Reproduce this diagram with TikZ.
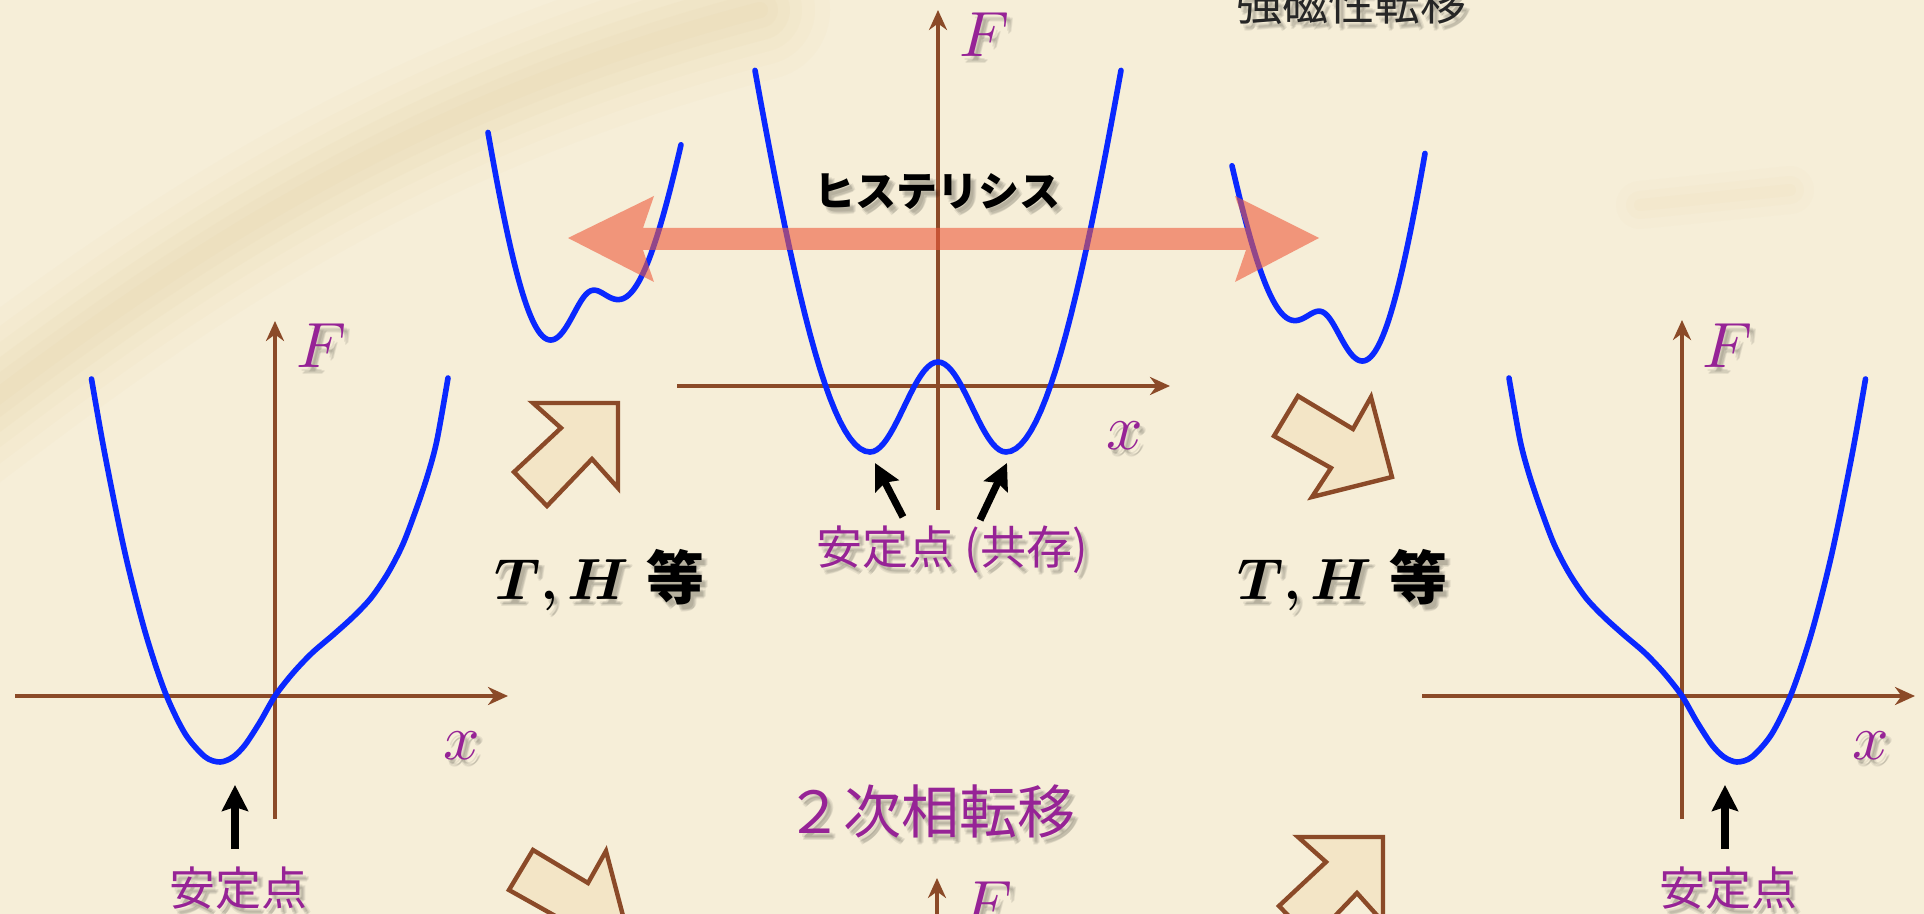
\documentclass[tikz,border=0pt]{standalone}
\usepackage{unicode-math}
\newfontfamily\cjk{Noto Sans CJK JP}
\usetikzlibrary{arrows.meta,calc}
\definecolor{bg}{RGB}{246,238,216}
\definecolor{axbrown}{RGB}{139,74,40}
\definecolor{curveblue}{RGB}{10,40,255}
\definecolor{lblpurple}{RGB}{150,35,150}
\definecolor{pinkarrow}{RGB}{238,90,60}
\definecolor{blockfill}{RGB}{243,229,198}
\definecolor{stain}{RGB}{220,188,122}
\newcommand\shtext[4]{%
  \foreach \sx/\sy in {3/4,5/6,4/7,6/5}{\node[#3,text=black,opacity=0.07] (#1-sh\sx) at ($(#2)+(\sx,\sy)$) {#4};}%
  \node[#3] (#1) at (#2) {#4};}
\begin{document}
\begin{tikzpicture}[x=0.5pt,y=-0.5pt,
  declare function={wa(\t)=((\t-550)/100)*((\t-550)/100); wb(\t)=((\t-620)/100)*((\t-620)/100);},
  axis/.style={draw=axbrown, line width=1.9pt, -{Stealth[length=10pt,width=9pt]}},
  curve/.style={draw=curveblue, line width=2.8pt, line cap=round, line join=round},
  stab/.style={draw=black, line width=3.6pt, -{Stealth[length=13pt,width=13pt,inset=2pt]}},
  block/.style={draw=axbrown, fill=blockfill, line width=2.2pt, line join=miter},
  flbl/.style={text=lblpurple, inner sep=0pt, font=\fontsize{32}{32}\selectfont},
  jlbl/.style={text=lblpurple, inner sep=0pt, font=\cjk\fontsize{23}{23}\selectfont},
  thlbl/.style={text=black, inner sep=0pt, font=\fontsize{29}{29}\selectfont},
  hys/.style={text=black, inner sep=0pt, font=\cjk\bfseries\fontsize{20.5}{20.5}\selectfont},
  ferro/.style={text=black!85, inner sep=0pt, font=\cjk\fontsize{23}{23}\selectfont},
  phasetwo/.style={text=lblpurple, inner sep=0pt, font=\cjk\fontsize{29}{29}\selectfont}
]
\clip (0,0) rectangle (1924,914);
\fill[bg] (0,0) rectangle (1924,914);
% faint paper stains
\foreach \w/\o in {70/0.035,55/0.04,42/0.045,30/0.05,18/0.05,8/0.05}{
  \draw[stain, line width=\w pt, opacity=\o, line cap=round] (-60,440) .. controls (150,280) and (380,110) .. (760,10);
}
\foreach \w/\o in {24/0.03,14/0.035,6/0.04}{
  \draw[stain, line width=\w pt, opacity=\o, line cap=round] (1640,205) -- (1790,190);
}
% block arrows
\draw[block] (533,403) -- (618,403) -- (618,488) -- (592,459) -- (547,506) -- (514,472) -- (561,428) -- cycle;
\draw[block, shift={(765,434)}] (533,403) -- (618,403) -- (618,488) -- (592,459) -- (547,506) -- (514,472) -- (561,428) -- cycle;
\draw[block] (1298,396) -- (1353,429) -- (1371,397) -- (1392,477) -- (1312,497) -- (1331,468) -- (1274,436) -- cycle;
\draw[block, shift={(-765,454)}] (1298,396) -- (1353,429) -- (1371,397) -- (1392,477) -- (1312,497) -- (1331,468) -- (1274,436) -- cycle;
% axes
\coordinate (aX0) at (15,696); \coordinate (aX1) at (508,696);
\coordinate (aY0) at (275,819); \coordinate (aY1) at (275,321);
\coordinate (bX0) at (677,386); \coordinate (bX1) at (1170,386);
\coordinate (bY0) at (938,510); \coordinate (bY1) at (938,10);
\coordinate (cX0) at (1422,696); \coordinate (cX1) at (1915,696);
\coordinate (cY0) at (1682,819); \coordinate (cY1) at (1682,320);
\coordinate (dY0) at (937,930); \coordinate (dY1) at (937,878);
\draw[axis] (aX0) -- (aX1); \draw[axis] (aY0) -- (aY1);
\draw[axis] (bX0) -- (bX1); \draw[axis] (bY0) -- (bY1);
\draw[axis] (cX0) -- (cX1); \draw[axis] (cY0) -- (cY1);
\draw[axis] (dY0) -- (dY1);
% curve A (left) and C (right, mirrored)
\foreach \sh/\xs in {275/1,1682/-1}{
\begin{scope}[shift={(\sh,696)}, xscale=\xs]
\draw[curve] plot[smooth] coordinates {(-183.5,-317) (-170,-241) (-150,-143) (-130,-64.5) (-110,-4) (-90,37.6) (-70,60.8) (-55,66) (-42,61) (-30,49) (-15,26) (0,0) (18,-23) (37,-43) (58,-61) (78,-79) (96,-98) (113,-123) (128,-152) (142,-189) (153,-222) (162,-256) (173,-318)};
\end{scope}}
% curve B (symmetric double well)
\draw[curve] plot[domain=115:0, samples=24] ({870-\x}, {452-0.0345*\x*\x/(1+(\x/260)*(\x/260))})
  -- plot[domain=-68:68, samples=41] ({938+\x}, {407-45*cos(180*\x/68)})
  -- plot[domain=0:115, samples=24] ({1006+\x}, {452-0.0345*\x*\x/(1+(\x/260)*(\x/260))});
% curve D (top left small) and E (top right small, mirrored)
\foreach \sh/\xs/\dy in {0/1/0,1913/-1/21}{
\begin{scope}[shift={(\sh,\dy)}, xscale=\xs]
\draw[curve] plot[domain=488:681, samples=97] (\x, {58*ln(exp((339-630*wa(\x)/(1+wa(\x)/2.25))/58) + exp((298-480*wb(\x)/(1+wb(\x)/2.25))/58))});
\end{scope}}
% hysteresis double arrow
\fill[pinkarrow, opacity=0.6] (568,238) -- (654,196) -- (643,228) -- (1246,228) -- (1235,196) -- (1319,238) -- (1235,282) -- (1246,250) -- (643,250) -- (654,282) -- cycle;
% texts
\shtext{hysT}{937,192}{hys}{ヒステリシス}
\shtext{ferroT}{1351,21}{ferro, anchor=base}{強磁性転移}
\shtext{aF}{321,368}{flbl, anchor=base}{$F$}
\shtext{bF}{984,57}{flbl, anchor=base}{$F$}
\shtext{cF}{1727,368}{flbl, anchor=base}{$F$}
\shtext{dF}{987,925}{flbl, anchor=base}{$F$}
\shtext{ax}{462,746}{flbl}{$x$}
\shtext{bx}{1125,436}{flbl}{$x$}
\shtext{cx}{1871,746}{flbl}{$x$}
\shtext{bStab}{952,550}{jlbl}{安定点 (共存)}
\shtext{aStab}{238,888}{jlbl}{安定点}
\shtext{cStab}{1728,888}{jlbl}{安定点}
\shtext{second}{930,811}{phasetwo}{２次相転移}
\shtext{thL}{494,600}{thlbl, anchor=base west}{$\symbfit{T}$\textbf{,}\hspace{0.15em}$\symbfit{H}$\hspace{0.3em}{\cjk\bfseries 等}}
\shtext{thR}{1237,600}{thlbl, anchor=base west}{$\symbfit{T}$\textbf{,}\hspace{0.15em}$\symbfit{H}$\hspace{0.3em}{\cjk\bfseries 等}}
% stable-point arrows
\coordinate (aS0) at (235,849); \coordinate (aS1) at (235,785);
\coordinate (cS0) at (1725,849); \coordinate (cS1) at (1725,785);
\coordinate (bS0) at (903,517); \coordinate (bS1) at (875,463);
\coordinate (bS2) at (980,520); \coordinate (bS3) at (1007,463);
\draw[stab] (aS0) -- (aS1);
\draw[stab] (cS0) -- (cS1);
\draw[stab] (bS0) -- (bS1);
\draw[stab] (bS2) -- (bS3);
\end{tikzpicture}
\end{document}
